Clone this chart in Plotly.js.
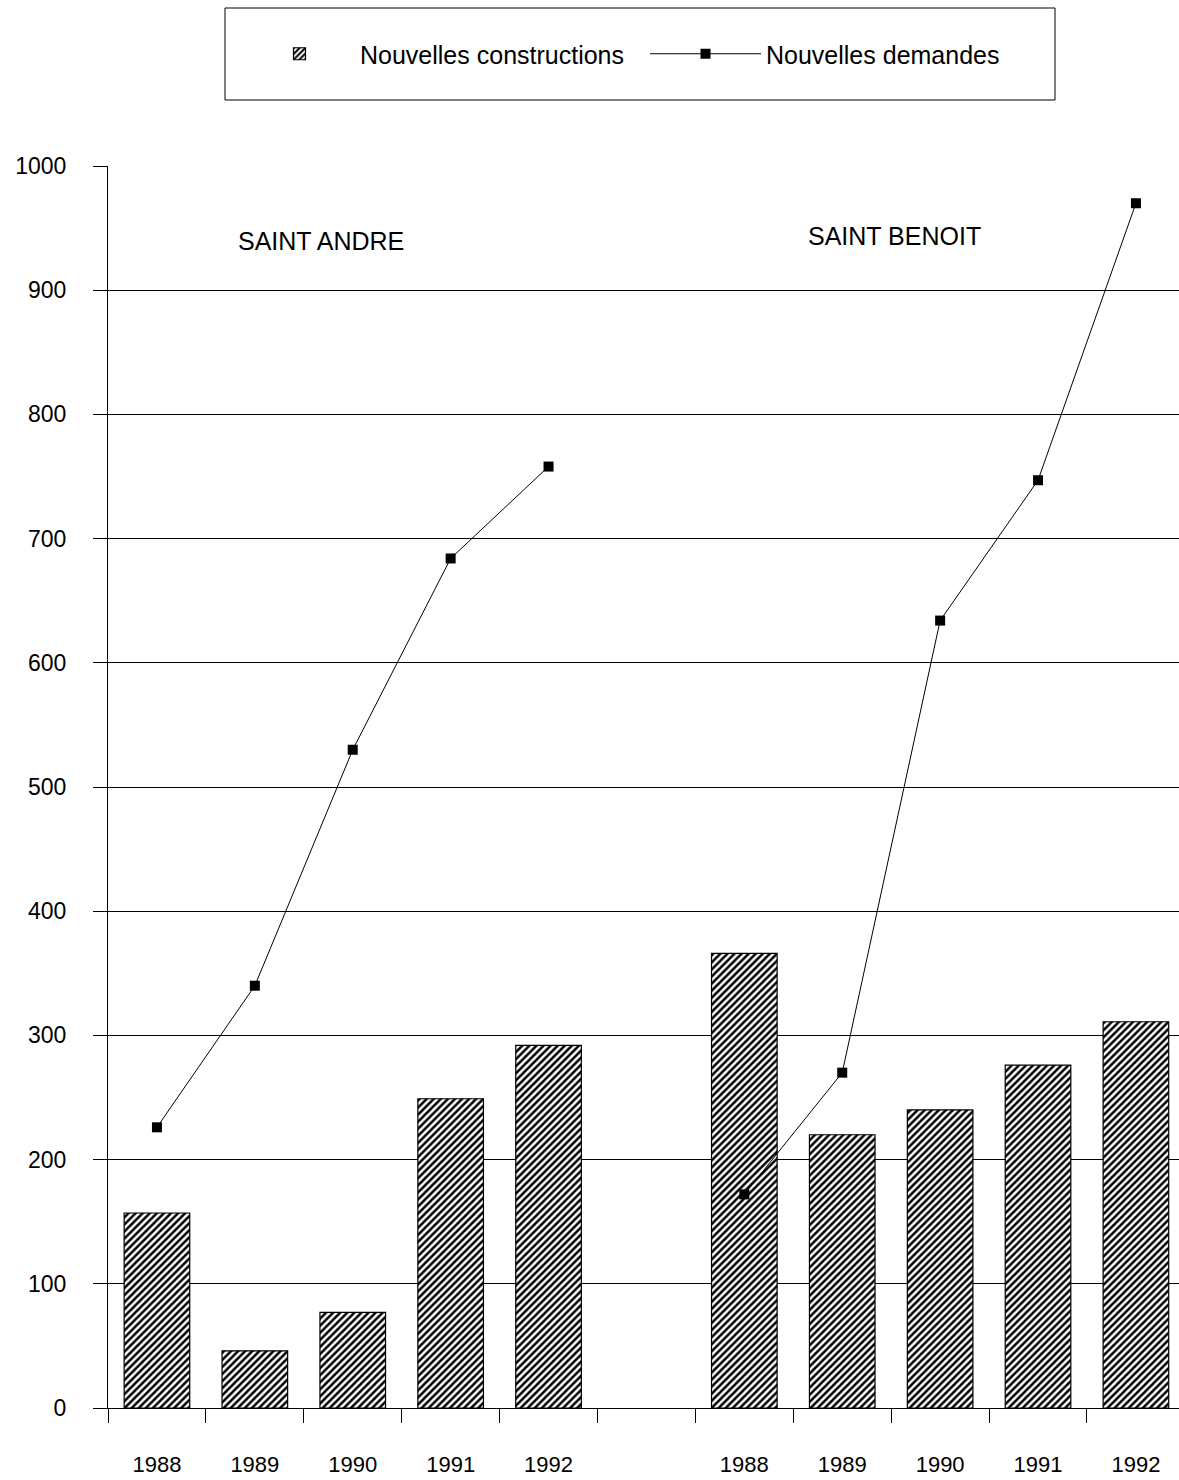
<!DOCTYPE html>
<html>
<head>
<meta charset="utf-8">
<script src="https://cdn.plot.ly/plotly-3.0.1.min.js"></script>
<style>html,body{margin:0;padding:0;background:#fff;}#chart{width:1179px;height:1480px;}</style>
</head>
<body>
<div id="chart"></div>
<script>
// ---- data ----
const years = ["1988", "1989", "1990", "1991", "1992"];
const towns = ["SAINT ANDRE", "SAINT BENOIT"];
const constructionsSaintAndre = [157, 46, 77, 249, 292];
const constructionsSaintBenoit = [366, 220, 240, 276, 311];
const demandesSaintAndre = [226, 340, 530, 684, 758];
const demandesSaintBenoit = [172, 270, 634, 747, 970];
const seriesNames = ["Nouvelles constructions", "Nouvelles demandes"];
const yTicks = [0, 100, 200, 300, 400, 500, 600, 700, 800, 900, 1000];

// slot positions: 5 years, one empty slot, 5 years
const n = years.length;
const xSA = years.map((_, i) => i);
const xSB = years.map((_, i) => i + n + 1);
const xAll = xSA.concat(xSB);
const labelsAll = years.concat(years);

const font = "Liberation Sans, Arial, Helvetica, sans-serif";

const traces = [
  {
    type: "bar",
    name: seriesNames[0],
    x: xAll,
    y: constructionsSaintAndre.concat(constructionsSaintBenoit),
    width: 0.67,
    marker: {
      color: "#ffffff",
      line: {color: "#000", width: 1.2},
      pattern: {shape: "/", fgcolor: "#000", bgcolor: "#fff", size: 5, solidity: 0.5}
    },
    hoverinfo: "y"
  },
  {
    type: "scatter",
    mode: "lines+markers",
    name: seriesNames[1],
    x: xSA,
    y: demandesSaintAndre,
    line: {color: "#000", width: 1},
    marker: {symbol: "square", size: 10, color: "#000"},
    legendgroup: "dem"
  },
  {
    type: "scatter",
    mode: "lines+markers",
    name: seriesNames[1],
    x: xSB,
    y: demandesSaintBenoit,
    line: {color: "#000", width: 1},
    marker: {symbol: "square", size: 10, color: "#000"},
    legendgroup: "dem",
    showlegend: false
  }
];

const L = 108, R = 0, T = 166, B = 72, W = 1179, H = 1480;
const pw = W - L - R, ph = H - T - B;
const px = v => (v - L) / pw;        // pixel x -> paper
const py = v => 1 + (T - v) / ph;    // pixel y -> paper

const layout = {
  width: W, height: H,
  margin: {l: L, r: R, t: T, b: B, pad: 0},
  paper_bgcolor: "#fff",
  plot_bgcolor: "#fff",
  font: {family: font, color: "#000", size: 22},
  bargap: 0,
  showlegend: true,
  legend: {
    orientation: "h",
    x: px(239), xanchor: "left",
    y: py(54), yanchor: "middle",
    font: {size: 25, family: font},
    bgcolor: "rgba(0,0,0,0)",
    borderwidth: 0,
    itemwidth: 111,
    entrywidth: 280,
    traceorder: "normal"
  },
  xaxis: {
    range: [-0.5, 10.44],
    tickmode: "array",
    tickvals: xAll,
    ticktext: labelsAll,
    ticks: "",
    ticklabelstandoff: 37,
    tickfont: {size: 22},
    showgrid: false,
    zeroline: false,
    showline: true,
    linecolor: "#000",
    linewidth: 1,
    minor: {tick0: 0.5, dtick: 1, ticks: "outside", ticklen: 14, tickcolor: "#000", tickwidth: 1, showgrid: false},
    fixedrange: true
  },
  yaxis: {
    range: [0, 1000],
    tickmode: "array",
    tickvals: yTicks,
    ticks: "outside",
    ticklen: 14,
    tickcolor: "#000",
    ticklabelstandoff: 22,
    tickfont: {size: 23},
    showgrid: true,
    gridcolor: "#000",
    gridwidth: 1,
    zeroline: false,
    showline: true,
    linecolor: "#000",
    linewidth: 1,
    fixedrange: true
  },
  annotations: [
    {x: 1.68, y: 940, xref: "x", yref: "y", text: towns[0], showarrow: false, font: {size: 25, family: font}},
    {x: 7.53, y: 944, xref: "x", yref: "y", text: towns[1], showarrow: false, font: {size: 25, family: font}}
  ],
  shapes: [
    {type: "rect", xref: "paper", yref: "paper", x0: px(225), x1: px(1055), y0: py(100), y1: py(8),
     line: {color: "#000", width: 1}, fillcolor: "rgba(0,0,0,0)"}
  ]
};

Plotly.newPlot("chart", traces, layout, {displayModeBar: false, staticPlot: true});
</script>
</body>
</html>
